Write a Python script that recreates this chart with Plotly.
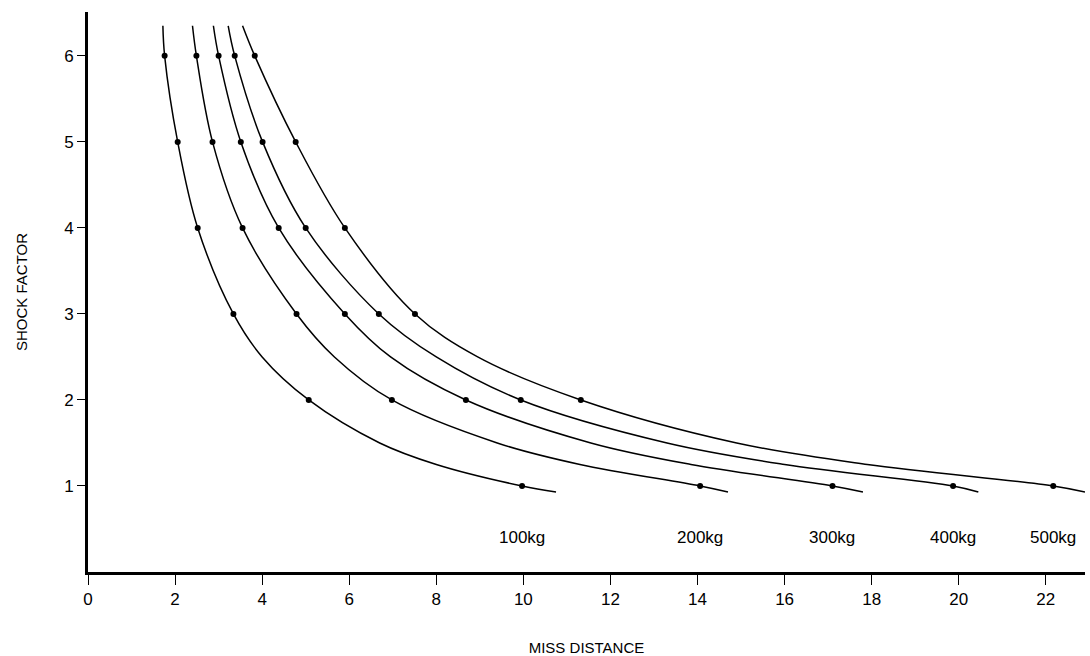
import plotly.graph_objects as go

# Charge weights (labels)
charges = ["100kg", "200kg", "300kg", "400kg", "500kg"]

# Shock factor levels at which the curves were read (including curve ends)
sf_levels = [6.35, 6, 5, 4, 3, 2.5, 2, 1.5, 1.25, 1, 0.93]

# Miss distance at those shock-factor levels
miss_100 = [1.72, 1.76, 2.06, 2.52, 3.34, 4.0, 5.07, 6.7, 8.0, 9.97, 10.75]
miss_200 = [2.40, 2.49, 2.86, 3.55, 4.79, 5.66, 6.98, 9.4, 11.3, 14.06, 14.7]
miss_300 = [2.88, 3.00, 3.51, 4.38, 5.90, 6.95, 8.68, 11.55, 13.85, 17.1, 17.8]
miss_400 = [3.22, 3.37, 4.01, 5.00, 6.68, 8.0, 9.94, 13.3, 16.0, 19.87, 20.45]
miss_500 = [3.55, 3.83, 4.77, 5.90, 7.51, 8.95, 11.32, 14.9, 17.9, 22.17, 22.9]
curves = [miss_100, miss_200, miss_300, miss_400, miss_500]

# Marked points (integer shock factors)
dot_sf = [6, 5, 4, 3, 2, 1]

label_y = 0.40

x_ticks = [0, 2, 4, 6, 8, 10, 12, 14, 16, 18, 20, 22]
y_ticks = [1, 2, 3, 4, 5, 6]

FONT = "Liberation Sans, Arial, Helvetica"

fig = go.Figure()
for name, xs in zip(charges, curves):
    fig.add_trace(go.Scatter(
        x=xs, y=sf_levels, mode="lines",
        line=dict(color="black", width=1.5, shape="spline", smoothing=1.0),
        name=name, showlegend=False, hoverinfo="skip"))
    dx = [x for x, s in zip(xs, sf_levels) if s in dot_sf]
    dy = [s for s in sf_levels if s in dot_sf]
    fig.add_trace(go.Scatter(
        x=dx, y=dy, mode="markers",
        marker=dict(color="black", size=6),
        name=name, showlegend=False))
    fig.add_annotation(x=xs[sf_levels.index(1)], y=label_y, text=name,
                       showarrow=False,
                       font=dict(family=FONT, size=17, color="black"))

fig.update_layout(
    width=1090, height=656,
    margin=dict(l=88, r=5, t=12, b=84),
    paper_bgcolor="white", plot_bgcolor="white",
    font=dict(family=FONT, color="black"),
    xaxis=dict(range=[0, 22.9], tickvals=x_ticks, ticks="outside", ticklen=10,
               tickwidth=1.2, tickcolor="black", showgrid=False, zeroline=False,
               showline=True, linecolor="black", linewidth=3,
               tickfont=dict(size=17), automargin=False,
               title=dict(text="MISS DISTANCE", font=dict(size=15), standoff=42)),
    yaxis=dict(range=[0, 6.51], tickvals=y_ticks, ticks="outside", ticklen=8,
               tickwidth=1.2, tickcolor="black", showgrid=False, zeroline=False,
               showline=True, linecolor="black", linewidth=3,
               tickfont=dict(size=17), automargin=False,
               title=dict(text="SHOCK FACTOR", font=dict(size=15), standoff=33)),
)

fig.write_html("out.html",
               config={"displayModeBar": False},
               post_script="document.body.style.margin='0';document.body.style.overflow='hidden';")
